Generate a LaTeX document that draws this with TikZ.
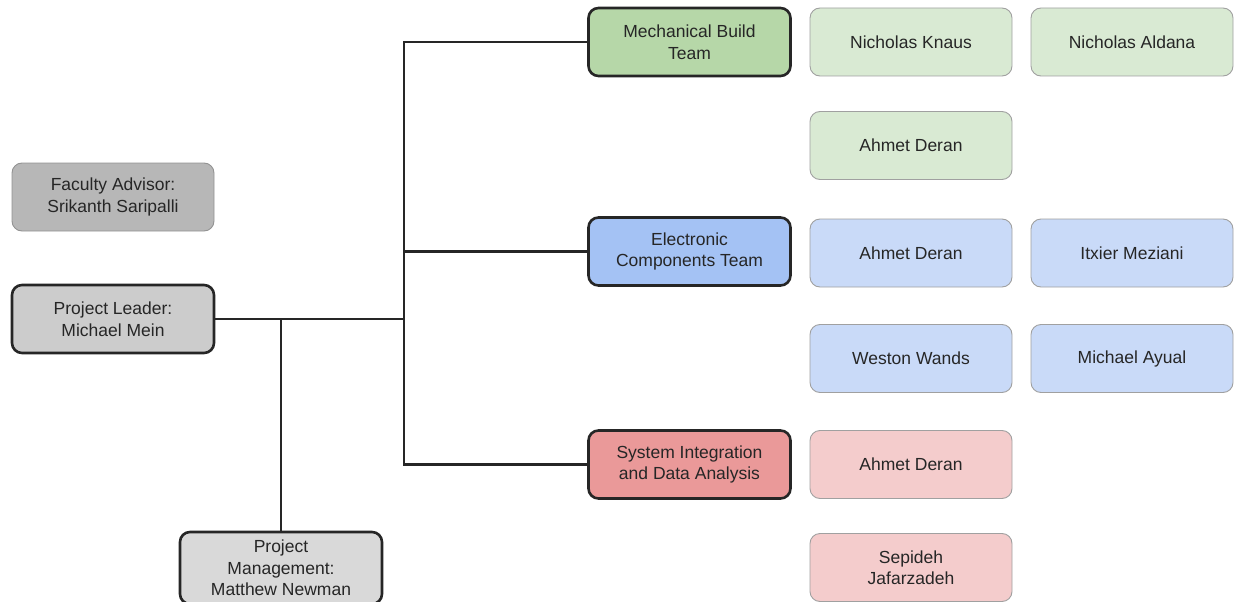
\documentclass[tikz,border=0pt]{standalone}
\usepackage{fontspec}
\setmainfont{Liberation Sans}
\definecolor{advfill}{HTML}{B7B7B7}
\definecolor{leadfill}{HTML}{CCCCCC}
\definecolor{pmfill}{HTML}{D9D9D9}
\definecolor{gteam}{HTML}{B6D7A8}
\definecolor{gmem}{HTML}{D9EAD3}
\definecolor{bteam}{HTML}{A4C2F4}
\definecolor{bmem}{HTML}{C9DAF8}
\definecolor{rteam}{HTML}{EA9999}
\definecolor{rmem}{HTML}{F4CCCC}
\definecolor{edge}{HTML}{262626}
\definecolor{thinb}{HTML}{A0A0A0}
\tikzset{
  box/.style={rounded corners=10pt, minimum width=202pt, minimum height=68pt, align=center, inner sep=0pt,
    font=\fontsize{17.5}{21.5}\selectfont, text=black!85},
  lead/.style={box, draw=edge, line width=2.6pt},
  memb/.style={box, draw=thinb, line width=0.9pt},
  conn/.style={draw=edge, line width=2.6pt},
}
\begin{document}
\begin{tikzpicture}[x=1pt,y=-1pt]
\useasboundingbox (0,0) rectangle (1235,602);
% left column
\node[memb, fill=advfill, draw=advfill!80!black] (adv) at (113,197) {Faculty Advisor:\\Srikanth Saripalli};
\node[lead, fill=leadfill] (lead) at (113,319) {Project Leader:\\Michael Mein};
\node[lead, fill=pmfill, minimum height=72pt] (pm) at (281,568) {Project\\Management:\\Matthew Newman};
% teams
\node[lead, fill=gteam] (mech) at (689.5,42) {Mechanical Build\\Team};
\node[lead, fill=bteam] (elec) at (689.5,251.5) {Electronic\\Components Team};
\node[lead, fill=rteam] (sys) at (689.5,464.5) {System Integration\\and Data Analysis};
% members
\node[memb, fill=gmem] (nk) at (911,42) {Nicholas Knaus};
\node[memb, fill=gmem] (na) at (1132,42) {Nicholas Aldana};
\node[memb, fill=gmem] (ad1) at (911,145.5) {Ahmet Deran};
\node[memb, fill=bmem] (ad2) at (911,253) {Ahmet Deran};
\node[memb, fill=bmem] (im) at (1132,253) {Itxier Meziani};
\node[memb, fill=bmem] (ww) at (911,358.5) {Weston Wands};
\node[memb, fill=bmem] (ma) at (1132,358.5) {Michael Ayual};
\node[memb, fill=rmem] (ad3) at (911,464.5) {Ahmet Deran};
\node[memb, fill=rmem] (sj) at (911,567.5) {Sepideh\\Jafarzadeh};
% connectors
\coordinate (bus) at (404,319);
\coordinate (pmj) at (281,319);
\draw[conn] (lead.east) -- (bus);
\draw[conn] (pmj) -- (pm.north);
\draw[conn] (mech.west) -| (bus);
\draw[conn] (sys.west) -| (bus);
\draw[conn] (elec.west) -- (elec.west -| bus);
\end{tikzpicture}
\end{document}
